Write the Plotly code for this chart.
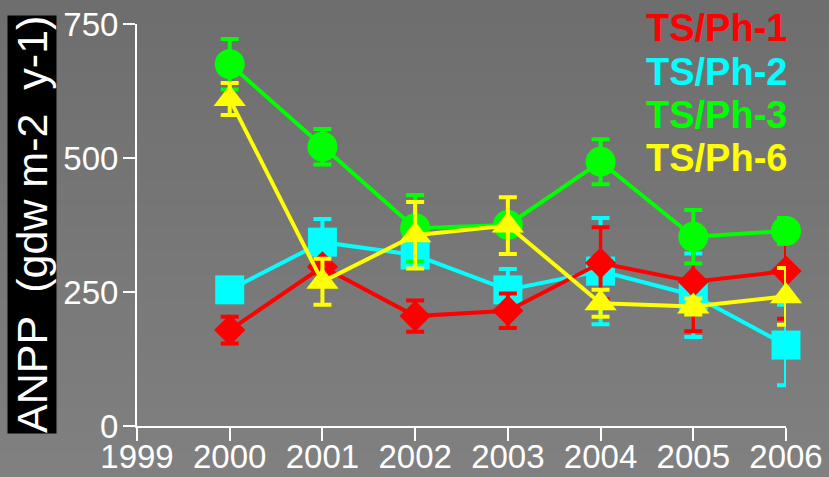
import plotly.graph_objects as go

# Survey years and axis ticks
years = [2000, 2001, 2002, 2003, 2004, 2005, 2006]
x_ticks = [1999, 2000, 2001, 2002, 2003, 2004, 2005, 2006]
y_ticks = [0, 250, 500, 750]

# ANPP per site (g dw m-2 y-1) with error
site_names = ["TS/Ph-1", "TS/Ph-2", "TS/Ph-3", "TS/Ph-6"]
ph1 = [179, 297, 205, 215, 304, 269, 289]
ph1_err = [25, 12, 29, 32, 67, 92, 89]
ph2 = [254, 343, 319, 254, 289, 244, 151]
ph2_err = [8, 43, 10, 39, 99, 78, 75]
ph3 = [675, 521, 369, 375, 493, 353, 364]
ph3_err = [47, 33, 62, 10, 42, 50, 24]
ph6 = [610, 269, 356, 374, 229, 223, 242]
ph6_err = [30, 43, 62, 53, 25, 15, 53]

colors = {"TS/Ph-1": "#ff0000", "TS/Ph-2": "#00ffff",
          "TS/Ph-3": "#00ff00", "TS/Ph-6": "#ffff00"}
symbols = {"TS/Ph-1": "diamond", "TS/Ph-2": "square",
           "TS/Ph-3": "circle", "TS/Ph-6": "triangle-up"}
sizes = {"TS/Ph-1": 24, "TS/Ph-2": 29, "TS/Ph-3": 30, "TS/Ph-6": 28}
series = {"TS/Ph-1": (ph1, ph1_err), "TS/Ph-2": (ph2, ph2_err),
          "TS/Ph-3": (ph3, ph3_err), "TS/Ph-6": (ph6, ph6_err)}

W, H = 829, 477
L, R, T, B = 137, 43, 24, 51

fig = go.Figure()
draw_order = ["TS/Ph-2", "TS/Ph-1", "TS/Ph-3", "TS/Ph-6"]
for name in draw_order:
    vals, err = series[name]
    c = colors[name]
    fig.add_trace(go.Scatter(
        x=years, y=vals, name=name, mode="lines+markers",
        line=dict(color=c, width=4),
        marker=dict(symbol=symbols[name], size=sizes[name], color=c,
                    line=dict(width=0)),
        error_y=dict(type="data", array=err, visible=True,
                     color=c, thickness=4, width=9),
        cliponaxis=False, showlegend=False,
    ))

# vertical background gradient
pw, ph = W - L - R, H - T - B
x0p, x1p = -L / pw, 1 + R / pw
y0p, y1p = -B / ph, 1 + T / ph
n_bands = 40
top_rgb, bot_rgb = 0x6e, 0x80
shapes = []
for i in range(n_bands):
    f = i / (n_bands - 1)
    v = round(bot_rgb + (top_rgb - bot_rgb) * f)
    ya = y0p + (y1p - y0p) * i / n_bands
    yb = y0p + (y1p - y0p) * (i + 1) / n_bands
    shapes.append(dict(type="rect", xref="paper", yref="paper",
                       x0=x0p, x1=x1p, y0=ya, y1=yb + 0.002,
                       fillcolor=f"rgb({v},{v},{v})", line=dict(width=0),
                       layer="below"))

font_family = "Liberation Sans, Arial, sans-serif"
annotations = [dict(
    text="ANPP  (gdw m-2  y-1)", textangle=-90,
    xref="paper", yref="paper", x=(32 - L) / pw, y=(426 - 225) / ph,
    xanchor="center", yanchor="middle", showarrow=False,
    font=dict(family=font_family, size=43, color="white"),
    bgcolor="black", borderpad=0,
)]
for i, name in enumerate(site_names):
    annotations.append(dict(
        text=f"<b>{name}</b>", xref="paper", yref="paper",
        x=(645 - L) / pw, y=(426 - (28 + 43.5 * i)) / ph,
        xanchor="left", yanchor="middle", showarrow=False, borderpad=0,
        font=dict(family=font_family, size=38, color=colors[name]),
    ))

axis_font = dict(family=font_family, size=33, color="white")
fig.update_layout(
    width=W, height=H, margin=dict(l=L, r=R, t=T, b=B),
    paper_bgcolor="#777777", plot_bgcolor="rgba(0,0,0,0)",
    shapes=shapes, annotations=annotations,
    xaxis=dict(range=[1999, 2006], tickvals=x_ticks,
               ticktext=[str(v) for v in x_ticks], automargin=False,
               showgrid=False, zeroline=False, showline=True,
               linecolor="white", linewidth=2, ticks="outside",
               ticklen=13, tickwidth=2, tickcolor="white",
               ticklabelstandoff=-13, tickfont=axis_font),
    yaxis=dict(range=[0, 750], tickvals=y_ticks, automargin=False,
               showgrid=False, zeroline=False, showline=True,
               linecolor="white", linewidth=2, ticks="outside",
               ticklen=12, tickwidth=2, tickcolor="white",
               ticklabelstandoff=-2, tickfont=axis_font),
)

fig.write_html("out.html")
